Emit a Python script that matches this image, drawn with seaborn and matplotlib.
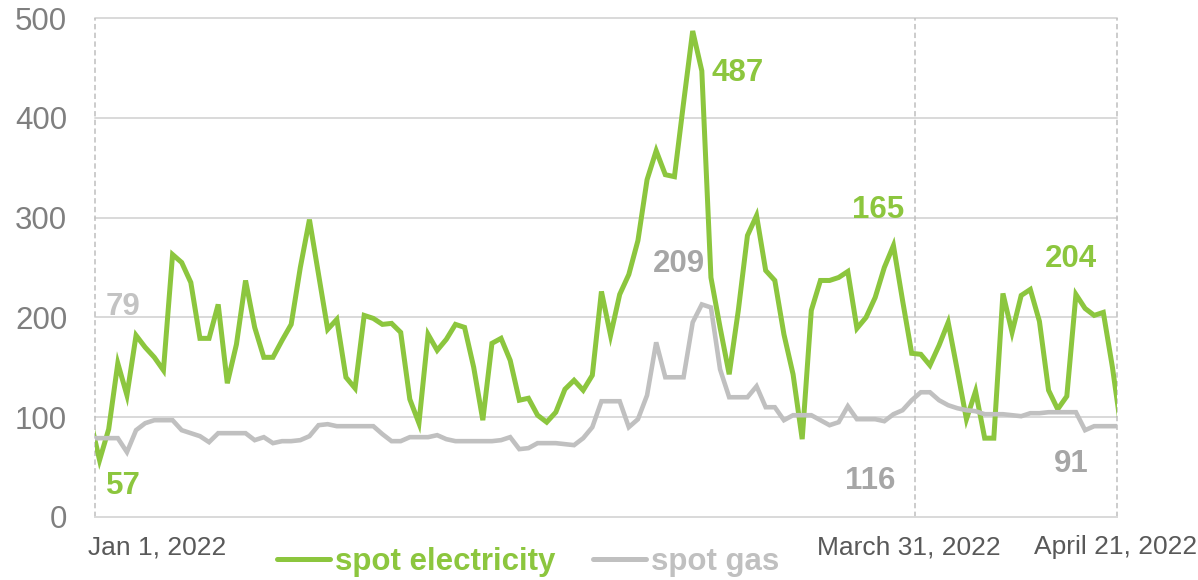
import numpy as np
import pandas as pd
import matplotlib
matplotlib.use("Agg")
import matplotlib.pyplot as plt
import matplotlib.transforms as mtransforms
import seaborn as sns
from matplotlib.lines import Line2D

# ---- data (daily, index 0 = Jan 1, 2022; -1 and 111/112 are clipped by the axis) ----
day_index = list(range(-1, 113))

spot_electricity = [
    97, 57, 88, 154, 122, 182, 170, 160, 147, 263,
    255, 235, 179, 179, 213, 134, 173, 237, 190, 160,
    160, 177, 193, 250, 298, 243, 188, 198, 140, 129,
    202, 199, 193, 194, 185, 118, 94, 183, 167, 178,
    193, 190, 150, 97, 174, 179, 157, 117, 119, 102,
    95, 105, 128, 137, 127, 142, 226, 182, 223, 243,
    277, 338, 367, 343, 341, 415, 487, 447, 240, 190,
    143, 207, 282, 302, 247, 237, 183, 143, 78, 207,
    237, 237, 240, 246, 189, 200, 220, 250, 272, 217,
    164, 163, 152, 172, 195, 147, 98, 126, 79, 79,
    224, 185, 222, 228, 196, 127, 108, 121, 223, 209,
    202, 205, 150, 85,
]

spot_gas = [
    79, 79, 79, 79, 65, 87, 94, 97, 97, 97,
    87, 84, 81, 75, 84, 84, 84, 84, 77, 80,
    74, 76, 76, 77, 81, 92, 93, 91, 91, 91,
    91, 91, 83, 76, 76, 80, 80, 80, 82, 78,
    76, 76, 76, 76, 76, 77, 80, 68, 69, 74,
    74, 74, 73, 72, 79, 90, 116, 116, 116, 90,
    98, 122, 175, 140, 140, 140, 195, 213, 210, 148,
    120, 120, 120, 131, 110, 110, 97, 102, 102, 102,
    97, 92, 95, 111, 98, 98, 98, 96, 103, 107,
    117, 125, 125, 117, 112, 109, 107, 106, 103, 103,
    103, 102, 101, 104, 104, 105, 105, 105, 105, 87,
    91, 91, 91, 91,
]

series_names = ["spot electricity", "spot gas"]
tick_labels = ["Jan 1, 2022", "March 31, 2022", "April 21, 2022"]

# annotations: (text, day, value, series)
annot_text = ["79", "57", "487", "209", "165", "116", "204", "91"]
annot_day = [2.6, 2.6, 69.9, 63.5, 85.3, 84.4, 106.5, 106.5]
annot_val = [202, 23, 437, 245, 300, 28, 251, 45]
annot_series = ["gas_light", "elec", "elec", "gas", "elec", "gas", "elec", "gas"]

# ---- styling ----
GREEN = "#8cc63e"
GRAY = "#c0c0c0"
GRAY_LABEL = "#a6a6a6"
GRAY_LIGHT_LABEL = "#c3c3c3"
label_colors = {"elec": GREEN, "gas": GRAY_LABEL, "gas_light": GRAY_LIGHT_LABEL}

sns.set_theme(style="white")
plt.rcParams["font.family"] = ["Liberation Sans", "DejaVu Sans"]

df = pd.DataFrame({
    "day": day_index * 2,
    "value": spot_electricity + spot_gas,
    "series": [series_names[0]] * len(day_index) + [series_names[1]] * len(day_index),
})

fig = plt.figure(figsize=(11.98, 5.80), dpi=100)
ax = fig.add_axes([95 / 1198, 63 / 580, 1022 / 1198, 499 / 580])

sns.lineplot(
    data=df, x="day", y="value", hue="series",
    palette={series_names[0]: GREEN, series_names[1]: GRAY},
    hue_order=series_names, linewidth=3.5, ax=ax, legend=False,
    estimator=None, sort=False,
)
for ln in ax.lines:
    ln.set_solid_joinstyle("miter")
ax.lines[0].set_linewidth(3.6)
ax.lines[0].set_zorder(2.5)
ax.lines[1].set_linewidth(3.3)
ax.lines[1].set_zorder(3)

ax.set_xlim(-0.5, 111.5)
ax.set_ylim(0, 500)
ax.set_xlabel("")
ax.set_ylabel("")

# horizontal gridlines
for yv in [100, 200, 300, 400, 500]:
    ax.axhline(yv, color="#d9d9d9", lw=1.4, zorder=1, clip_on=False)
ax.set_yticks([0, 100, 200, 300, 400, 500])
ax.tick_params(axis="y", labelsize=22.5, labelcolor="#7f7f7f", length=0, pad=20)

# spines
for s in ["top", "left", "right"]:
    ax.spines[s].set_visible(False)
ax.spines["bottom"].set_color("#d9d9d9")
ax.spines["bottom"].set_linewidth(1.4)

# vertical dashed separators
for xv in [-0.5, 89.35, 111.5]:
    ax.axvline(xv, color="#bfbfbf", lw=1.1, linestyle=(0, (3.5, 2.2)),
               zorder=1.5, clip_on=False)

# x labels: first one left-aligned near the axis start, others on ticks
ax.set_xticks([88.7, 111.3])
ax.set_xticklabels(tick_labels[1:])
ax.tick_params(axis="x", labelsize=19, labelcolor="#595959", length=0, pad=13)
ax.text(-0.5, 0, tick_labels[0], ha="left", va="top", fontsize=19,
        color="#595959",
        transform=ax.get_xaxis_transform() + mtransforms.ScaledTranslation(
            -7 / 100, -(13 + 0) / 72, fig.dpi_scale_trans))

# annotations
for t, d, v, s in zip(annot_text, annot_day, annot_val, annot_series):
    ax.text(d, v, t, ha="center", va="baseline", fontsize=22.5,
            fontweight="bold", color=label_colors[s], zorder=5)

# legend
handles = [Line2D([0], [0], color=GREEN, lw=3.6),
           Line2D([0], [0], color=GRAY, lw=3.6)]
leg = fig.legend(handles, series_names, loc="center",
                 bbox_to_anchor=(528 / 1198, 18 / 580), ncol=2, frameon=False,
                 handlelength=1.7, handletextpad=0.15, columnspacing=1.2,
                 prop={"size": 22.5, "weight": "bold"}, borderaxespad=0,
                 borderpad=0)
for txt, c in zip(leg.get_texts(), [GREEN, GRAY]):
    txt.set_color(c)

fig.savefig("out.png", dpi=100)
